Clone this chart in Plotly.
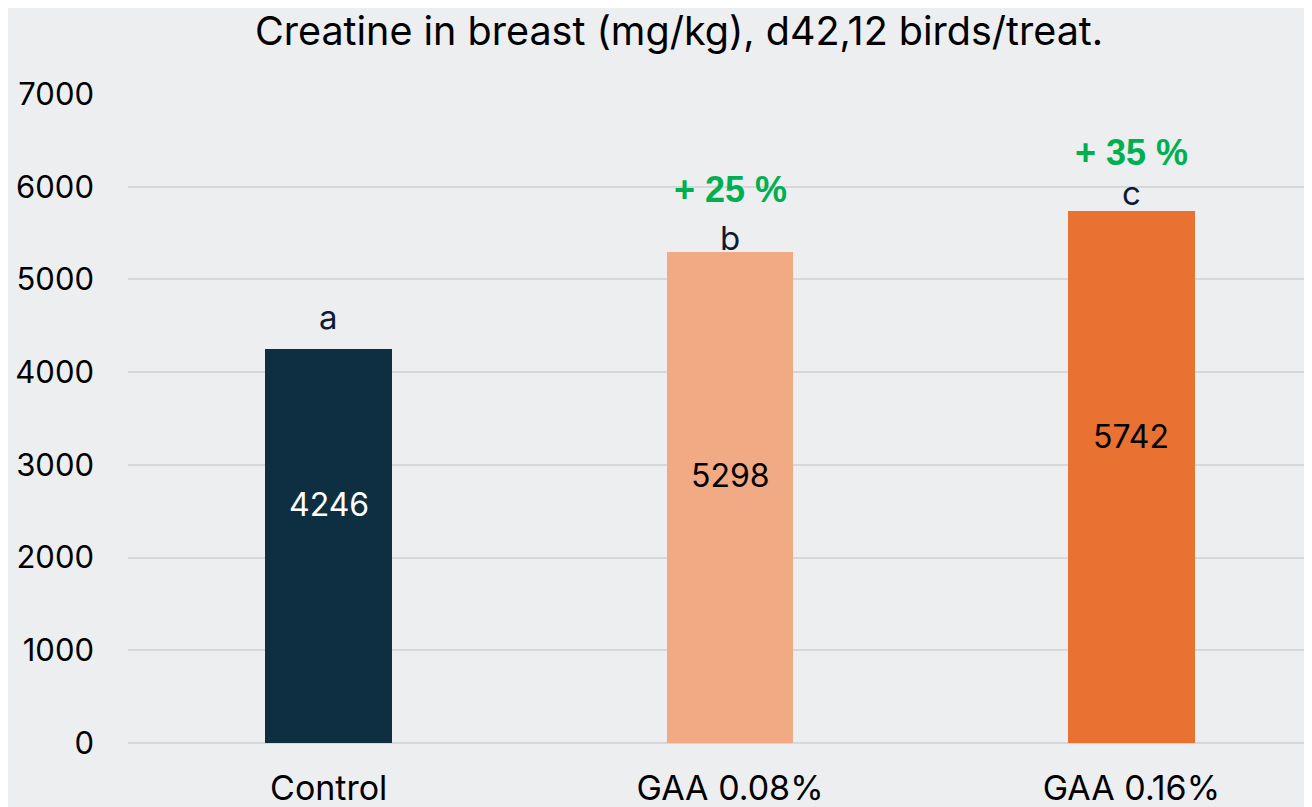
import plotly.graph_objects as go

categories = ["Control", "GAA 0.08%", "GAA 0.16%"]
values = [4246, 5298, 5742]
bar_colors = ["#0E2F42", "#F2AA84", "#E97132"]
value_label_colors = ["#FFFFFF", "#000000", "#000000"]
letters = ["a", "b", "c"]
increase_labels = ["", "+ 25 %", "+ 35 %"]
y_ticks = [0, 1000, 2000, 3000, 4000, 5000, 6000, 7000]

# label placement (y in data units)
value_label_y = [2570, 2880, 3310]
letter_label_y = [4600, 5450, 5935]
increase_label_y = [None, 5965, 6365]

fig = go.Figure()
fig.add_trace(go.Bar(
    x=categories, y=values, marker_color=bar_colors, width=0.315,
    marker_line_width=0, hoverinfo="x+y",
))

ann = []
for i, c in enumerate(categories):
    ann.append(dict(x=c, y=value_label_y[i], text=str(values[i]), showarrow=False,
                    font=dict(family="Inter, Liberation Sans, sans-serif", size=32,
                              color=value_label_colors[i])))
    ann.append(dict(x=c, y=letter_label_y[i], text=letters[i], showarrow=False,
                    font=dict(family="Inter, Liberation Sans, sans-serif", size=33,
                              color="#0E1B33")))
    if increase_labels[i]:
        ann.append(dict(x=c, y=increase_label_y[i], text="<b>" + increase_labels[i] + "</b>",
                        showarrow=False,
                        font=dict(family="Liberation Sans, Arial, sans-serif", size=36,
                                  color="#00B050")))

fig.update_layout(
    width=1304, height=799,
    paper_bgcolor="#EDEEF0", plot_bgcolor="#EDEEF0",
    margin=dict(l=120, r=0, t=86, b=64),
    title=dict(text="Creatine in breast (mg/kg), d42,12 birds/treat.",
               x=0.5146, xanchor="center", y=0.971, yanchor="middle",
               font=dict(family="Inter, Liberation Sans, sans-serif", size=39.5, color="#000000")),
    showlegend=False,
    bargap=0,
    annotations=ann,
    font=dict(family="Inter, Liberation Sans, sans-serif"),
)
fig.update_xaxes(range=[-0.5, 2.45], showgrid=False, showline=False, zeroline=False,
                 ticks="", tickfont=dict(size=34, color="#000000"), ticklabelstandoff=22)
fig.update_yaxes(range=[0, 7000], tickvals=y_ticks, showgrid=True, gridcolor="#D6D7DA",
                 gridwidth=2, zeroline=True, zerolinecolor="#D6D7DA", zerolinewidth=2,
                 showline=False, ticks="", tickfont=dict(size=31, color="#000000"),
                 ticklabelstandoff=33)

fig.write_html("out.html")
